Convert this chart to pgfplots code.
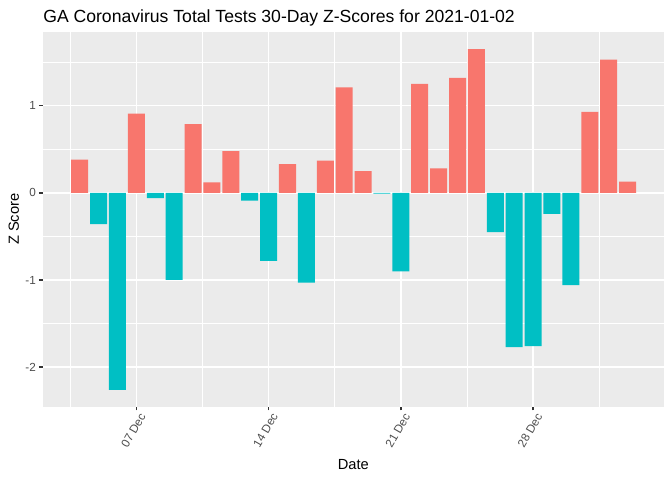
\documentclass[border=0pt]{standalone}
\usepackage{pgfplots}
\pgfplotsset{compat=1.18}
\usepackage{fontspec}
\setmainfont{Liberation Sans}

\definecolor{posred}{HTML}{F8766D}
\definecolor{negteal}{HTML}{00BFC4}
\definecolor{panelgrey}{HTML}{EBEBEB}
\definecolor{tickgrey}{HTML}{333333}
\definecolor{labgrey}{HTML}{4D4D4D}

% z-scores by day (4 = 04 Dec, 32 = 01 Jan, 33 = 02 Jan)
\pgfplotstableread{
day z
4  0.38
7  0.91
10 0.79
11 0.12
12 0.48
15 0.33
17 0.37
18 1.21
19 0.25
22 1.25
23 0.28
24 1.32
25 1.65
31 0.93
32 1.53
33 0.13
}\positive
\pgfplotstableread{
day z
5  -0.36
6  -2.26
8  -0.06
9  -1.00
13 -0.09
14 -0.78
16 -1.03
20 -0.01
21 -0.90
26 -0.45
27 -1.77
28 -1.76
29 -0.24
30 -1.06
}\negative

\begin{document}
\begin{tikzpicture}
\begin{axis}[
    at={(32pt,55pt)}, anchor=south west,
    scale only axis,
    width=466pt, height=281.2pt,
    xmin=2.04, xmax=34.93,
    ymin=-2.454, ymax=1.849,
    ybar, bar width=0.9, bar shift=0pt,
    axis background/.style={fill=panelgrey},
    axis line style={draw=none},
    grid=both,
    major grid style={white, line width=1.07pt},
    minor grid style={white, line width=0.53pt},
    xtick={7,14,21,28},
    xticklabels={07 Dec,14 Dec,21 Dec,28 Dec},
    minor xtick={3.5,10.5,17.5,24.5,31.5},
    ytick={-2,-1,0,1},
    yticklabels={-2,-1,0,1},
    minor ytick={-1.5,-0.5,0.5,1.5},
    tick align=outside,
    xtick pos=bottom, ytick pos=left,
    major tick length=2.75pt,
    minor tick length=0pt,
    tick style={tickgrey, line width=1.07pt},
    minor tick style={draw=none},
    yticklabel style={font=\fontsize{8.8}{10}\selectfont, text=labgrey, inner sep=0pt, anchor=east, xshift=-2.2pt},
    xticklabel style={font=\fontsize{8.8}{10}\selectfont, text=labgrey, inner sep=0pt, rotate=60, anchor=north east, yshift=-2.2pt},
    xlabel={Date},
    xlabel style={font=\fontsize{11}{13}\selectfont, at={(axis description cs:0.5,-0.1556)}, anchor=center},
    ylabel={Z Score},
    ylabel style={font=\fontsize{11}{13}\selectfont, at={(axis description cs:-0.0465,0.5)}, anchor=center},
]
\addplot[fill=posred, draw=none, bar shift=0pt] table[x=day, y=z] {\positive};
\addplot[fill=negteal, draw=none, bar shift=0pt] table[x=day, y=z] {\negative};
\end{axis}
\node[anchor=base west, inner sep=0pt, font=\fontsize{13.2}{15}\selectfont] at (32.3pt,343.5pt)
    {GA Coronavirus Total Tests 30-Day Z-Scores for 2021-01-02};
\pgfresetboundingbox
\path (0,0) rectangle (504pt,360pt);
\end{tikzpicture}
\end{document}
